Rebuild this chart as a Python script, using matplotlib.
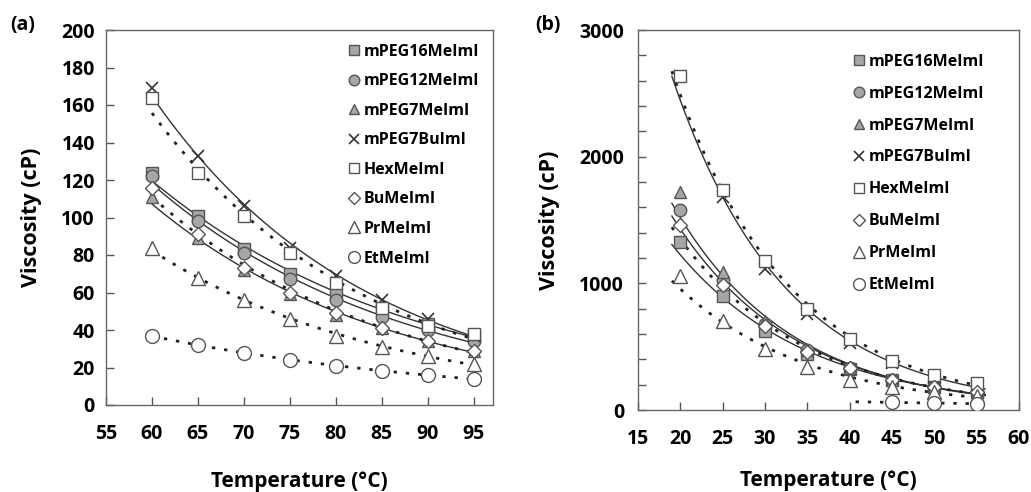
import numpy as np
import matplotlib
matplotlib.use("Agg")
import matplotlib.pyplot as plt
from matplotlib.ticker import MultipleLocator

plt.rcParams['font.family'] = ['Open Sans', 'DejaVu Sans']
plt.rcParams['font.weight'] = 'bold'

names = ["mPEG16MeImI", "mPEG12MeImI", "mPEG7MeImI", "mPEG7BuImI",
         "HexMeImI", "BuMeImI", "PrMeImI", "EtMeImI"]
labels = ["mPEG16MeImI", "mPEG12MeImI", "mPEG7MeImI", "mPEG7BuImI",
          "HexMeImI", "BuMeImI", "PrMeImI", "EtMeImI"]

# panel (a): 60-95 C
temp_a = [60, 65, 70, 75, 80, 85, 90, 95]
visc_a = {
    "mPEG16MeImI": [124, 101, 83, 70, 59, 51, 43, 37],
    "mPEG12MeImI": [122, 98, 81, 67, 56, 47, 40, 34],
    "mPEG7MeImI":  [111, 89, 72, 59, 48, 41, 34, 29],
    "mPEG7BuImI":  [169, 133, 106, 84, 69, 56, 46, 37],
    "HexMeImI":    [164, 124, 101, 81, 65, 52, 42, 38],
    "BuMeImI":     [116, 91, 73, 60, 49, 41, 34, 29],
    "PrMeImI":     [84, 68, 56, 46, 37, 31, 26, 22],
    "EtMeImI":     [37, 32, 28, 24, 21, 18, 16, 14],
}

# panel (b): 20-55 C
temp_b = [20, 25, 30, 35, 40, 45, 50, 55]
temp_b_et = [45, 50, 55]
visc_b = {
    "mPEG16MeImI": [1330, 900, 620, 440, 320, 235, 180, 140],
    "mPEG12MeImI": [1580, 1030, 680, 470, 330, 240, 180, 140],
    "mPEG7MeImI":  [1720, 1090, 700, 470, 330, 240, 180, 140],
    "mPEG7BuImI":  [2640, 1680, 1110, 760, 530, 370, 260, 190],
    "HexMeImI":    [2640, 1740, 1180, 800, 560, 390, 280, 210],
    "BuMeImI":     [1460, 990, 660, 460, 330, 240, 180, 140],
    "PrMeImI":     [1060, 700, 480, 340, 240, 180, 140, 110],
    "EtMeImI":     [60, 55, 50],
}

grey = '#a6a6a6'
edge = '#555555'
styles = {
    "mPEG16MeImI": dict(marker='s', mfc=grey, ms=8),
    "mPEG12MeImI": dict(marker='o', mfc=grey, ms=9),
    "mPEG7MeImI":  dict(marker='^', mfc=grey, ms=9),
    "mPEG7BuImI":  dict(marker='x', mfc='none', ms=9, mew=1.2),
    "HexMeImI":    dict(marker='s', mfc='white', ms=8),
    "BuMeImI":     dict(marker='D', mfc='white', ms=7),
    "PrMeImI":     dict(marker='^', mfc='white', ms=10),
    "EtMeImI":     dict(marker='o', mfc='white', ms=10),
}
solid = {"mPEG16MeImI", "mPEG12MeImI", "mPEG7MeImI", "mPEG7BuImI"}


def trend(ax, x, y, x0, x1, name):
    # excel-style exponential trendline
    b, a = np.polyfit(x, np.log(y), 1)
    xx = np.linspace(x0, x1, 100)
    if name in solid:
        ax.plot(xx, np.exp(a + b * xx), color='#333333', lw=1.0, zorder=2)
    else:
        ax.plot(xx, np.exp(a + b * xx), color='#222222', lw=2.0,
                linestyle=(0, (1.2, 3.2)), zorder=2)


fig = plt.figure(figsize=(10.31, 4.92), dpi=100)
ax1 = fig.add_axes([106 / 1031, 1 - 405 / 492, 387 / 1031, 375 / 492])
ax2 = fig.add_axes([638 / 1031, 1 - 410 / 492, 381 / 1031, 380 / 492])

for n, lab in zip(names, labels):
    st = styles[n]
    trend(ax1, temp_a, visc_a[n], 60, 95, n)
    ax1.plot(temp_a, visc_a[n], linestyle='none', marker=st['marker'],
             mfc=st['mfc'], mec=edge if n != "mPEG7BuImI" else '#333333',
             ms=st['ms'], mew=st.get('mew', 1.0), label=lab, zorder=3)

    tb = temp_b_et if n == "EtMeImI" else temp_b
    if n == "EtMeImI":
        trend(ax2, tb, visc_b[n], 40.7, 56, n)
    else:
        trend(ax2, tb, visc_b[n], 19, 56, n)
    ax2.plot(tb, visc_b[n], linestyle='none', marker=st['marker'],
             mfc=st['mfc'], mec=edge if n != "mPEG7BuImI" else '#333333',
             ms=st['ms'], mew=st.get('mew', 1.0), label=lab, zorder=3)

ax1.set_xlim(55, 97.1)
ax1.set_ylim(0, 200)
ax1.set_xticks(np.arange(55, 96, 5))
ax1.set_yticks(np.arange(0, 201, 20))

ax2.set_xlim(15, 60)
ax2.set_ylim(0, 3000)
ax2.set_xticks(np.arange(15, 61, 5))
ax2.set_yticks([0, 1000, 2000, 3000])
ax2.yaxis.set_minor_locator(MultipleLocator(200))

for ax in (ax1, ax2):
    for s in ax.spines.values():
        s.set_color('#666666')
        s.set_linewidth(1.0)
    ax.tick_params(direction='in', length=6, width=1, color='#555555',
                   labelsize=14, pad=14)
    ax.tick_params(which='minor', direction='in', length=6, width=1,
                   color='#555555')
    ax.set_xlabel("Temperature (°C)", fontsize=15, fontweight='bold',
                  labelpad=19)
    ax.set_ylabel("Viscosity (cP)", fontsize=15.5, fontweight='bold',
                  labelpad=14)
    for t in ax.get_xticklabels() + ax.get_yticklabels():
        t.set_fontweight('bold')

ax1.tick_params(axis='y', pad=8)
ax2.tick_params(axis='y', pad=10)
ax2.xaxis.labelpad = 15

leg1 = ax1.legend(loc='upper right', frameon=False, fontsize=11.5,
                  handletextpad=0.1, labelspacing=0.85, borderaxespad=0.45,
                  handlelength=1.0, markerscale=0.85)
leg2 = ax2.legend(loc='upper right', frameon=False, fontsize=11.5,
                  handletextpad=0.1, labelspacing=1.0, borderaxespad=0.6,
                  handlelength=1.0, markerscale=0.85,
                  bbox_to_anchor=(0.95, 0.98))
for leg in (leg1, leg2):
    for t in leg.get_texts():
        t.set_fontweight('bold')

fig.text(10 / 1031, 1 - 25 / 492, "(a)", fontsize=14, fontweight='bold',
         va='center')
fig.text(535 / 1031, 1 - 25 / 492, "(b)", fontsize=14, fontweight='bold',
         va='center')

fig.savefig("out.png", dpi=100, facecolor='white')
